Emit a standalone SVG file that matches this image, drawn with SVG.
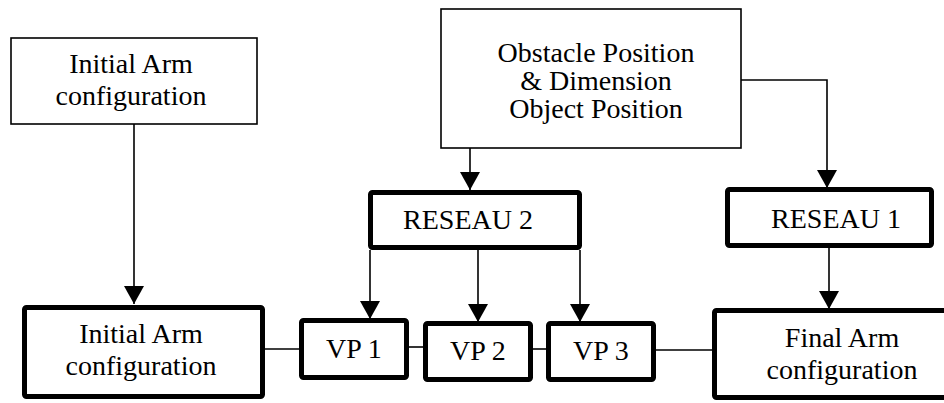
<svg xmlns="http://www.w3.org/2000/svg" width="944" height="403" viewBox="0 0 944 403">
<defs>
<style>
.thin{fill:#fff;stroke:#000;stroke-width:1.6}
.thick{fill:#fff;stroke:#000;stroke-width:5;stroke-linejoin:round}
.t{font-family:"Liberation Serif","Times New Roman",serif;font-size:28px;fill:#000;text-anchor:middle}
.c{fill:none;stroke:#000;stroke-width:1.6}
</style>
<marker id="arr" viewBox="0 0 18 20" refX="18" refY="10" markerWidth="18" markerHeight="20" markerUnits="userSpaceOnUse" orient="auto">
<path d="M0,0 L18,10 L0,20 z" fill="#000"/>
</marker>
</defs>
<rect width="944" height="403" fill="#fff"/>
<g id="connectors">
<line class="c" x1="134" y1="124" x2="134" y2="304" marker-end="url(#arr)"/>
<line class="c" x1="470" y1="148" x2="470" y2="190" marker-end="url(#arr)"/>
<path class="c" d="M741 80 H827 V188" marker-end="url(#arr)"/>
<line class="c" x1="370" y1="250" x2="370" y2="319" marker-end="url(#arr)"/>
<line class="c" x1="478" y1="250" x2="478" y2="322" marker-end="url(#arr)"/>
<line class="c" x1="580" y1="250" x2="580" y2="322" marker-end="url(#arr)"/>
<line class="c" x1="829" y1="248" x2="829" y2="309" marker-end="url(#arr)"/>
<line class="c" x1="265" y1="349" x2="299" y2="349"/>
<line class="c" x1="409" y1="347" x2="423" y2="347"/>
<line class="c" x1="533" y1="349" x2="546" y2="349"/>
<line class="c" x1="656" y1="350" x2="712" y2="350"/>
</g>
<g id="init-top">
<rect class="thin" x="11" y="38" width="246" height="86"/>
<text class="t" x="131" y="73">Initial Arm</text>
<text class="t" x="131" y="105">configuration</text>
</g>
<g id="obstacle">
<rect class="thin" x="441" y="9" width="300" height="139"/>
<text class="t" x="596" y="62">Obstacle Position</text>
<text class="t" x="596" y="90">&amp; Dimension</text>
<text class="t" x="596" y="118">Object Position</text>
</g>
<g id="reseau2">
<rect class="thick" x="370.5" y="192.5" width="209" height="55" rx="2"/>
<text class="t" x="468" y="229">RESEAU 2</text>
</g>
<g id="reseau1">
<rect class="thick" x="727.5" y="189.5" width="204" height="56" rx="2"/>
<text class="t" x="836" y="228">RESEAU 1</text>
</g>
<g id="init-bottom">
<rect class="thick" x="24.5" y="307.5" width="238" height="89" rx="2"/>
<text class="t" x="141" y="343">Initial Arm</text>
<text class="t" x="141" y="375">configuration</text>
</g>
<g id="vp1">
<rect class="thick" x="301.5" y="320.5" width="105" height="57" rx="2"/>
<text class="t" x="354" y="358">VP 1</text>
</g>
<g id="vp2">
<rect class="thick" x="425.5" y="323.5" width="105" height="56" rx="2"/>
<text class="t" x="478" y="360">VP 2</text>
</g>
<g id="vp3">
<rect class="thick" x="548.5" y="323.5" width="105" height="56" rx="2"/>
<text class="t" x="601" y="360">VP 3</text>
</g>
<g id="final">
<rect class="thick" x="714.5" y="310.5" width="260" height="87" rx="2"/>
<text class="t" x="842" y="347">Final Arm</text>
<text class="t" x="842" y="379">configuration</text>
</g>
</svg>
